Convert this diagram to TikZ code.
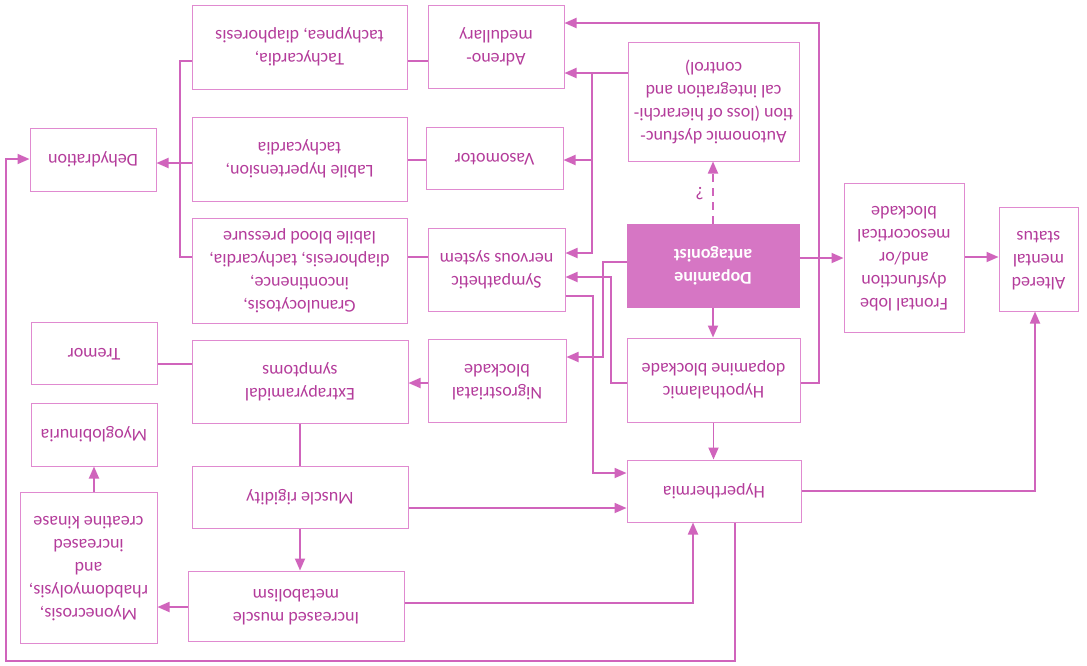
\documentclass[tikz,border=0pt]{standalone}
\usepackage{fontspec}
\setmainfont{Carlito}
\usetikzlibrary{arrows.meta}
\definecolor{pkline}{RGB}{208,100,188}
\definecolor{pkbox}{RGB}{224,138,208}
\definecolor{pktext}{RGB}{180,60,155}
\definecolor{pkfill}{RGB}{214,118,196}
\newcommand{\flip}[1]{\rotatebox[origin=c]{180}{\begin{tabular}{@{}c@{}}#1\end{tabular}}}
\begin{document}
\begin{tikzpicture}[x=1pt,y=-1pt,
  bx/.style={draw=pkbox, line width=1pt, inner sep=0pt, text=pktext, font=\fontsize{18}{23}\selectfont},
  ln/.style={draw=pkline, line width=1.8pt},
  arr/.style={ln, -{Triangle[length=12pt,width=10pt]}}]
\fill[white] (0,0) rectangle (1087,665);
\useasboundingbox (0,0) rectangle (1087,665);

\node[bx, minimum width=215pt, minimum height=84pt] (tach) at (299.5,47) {\flip{Tachycardia,\\ tachypnea, diaphoresis}};
\node[bx, minimum width=136pt, minimum height=83pt] (adreno) at (496,46.5) {\flip{Adreno-\\ medullary}};
\node[bx, minimum width=171pt, minimum height=119pt] (auto) at (713.5,101.5) {\flip{Autonomic dysfunc-\\ tion (loss of hierarchi-\\ cal integration and\\ control)}};
\node[bx, minimum width=126pt, minimum height=63pt] (dehyd) at (93,159.5) {\flip{Dehydration}};
\node[bx, minimum width=215pt, minimum height=84pt] (labile) at (299.5,159) {\flip{Labile hypertension,\\ tachycardia}};
\node[bx, minimum width=137pt, minimum height=62pt] (vaso) at (494.5,158) {\flip{Vasomotor}};
\node[bx, minimum width=215pt, minimum height=105pt] (gran) at (299.5,270.5) {\flip{Granulocytosis,\\ incontinence,\\ diaphoresis, tachycardia,\\ labile blood pressure}};
\node[bx, minimum width=137pt, minimum height=83pt] (symp) at (496.5,269.5) {\flip{Sympathetic\\ nervous system}};
\node[bx, fill=pkfill, draw=pkfill, text=white, font=\fontsize{18}{23}\selectfont\bfseries, minimum width=172pt, minimum height=83pt] (dop) at (713,265.5) {\flip{Dopamine\\ antagonist}};
\node[bx, minimum width=120pt, minimum height=149pt] (front) at (904,257.5) {\flip{Frontal lobe\\ dysfunction\\ and/or\\ mesocortical\\ blockade}};
\node[bx, minimum width=79pt, minimum height=104pt] (alter) at (1038.5,259) {\flip{Altered\\ mental\\ status}};
\node[bx, minimum width=126pt, minimum height=62pt] (tremor) at (94,353) {\flip{Tremor}};
\node[bx, minimum width=216pt, minimum height=83pt] (extra) at (300,381.5) {\flip{Extrapyramidal\\ symptoms}};
\node[bx, minimum width=138pt, minimum height=83pt] (nigro) at (497,380.5) {\flip{Nigrostriatal\\ blockade}};
\node[bx, minimum width=173pt, minimum height=84pt] (hypo) at (713.5,380) {\flip{Hypothalamic\\ dopamine blockade}};
\node[bx, minimum width=126pt, minimum height=63pt] (myog) at (94,434.5) {\flip{Myoglobinuria}};
\node[bx, minimum width=216pt, minimum height=62pt] (musc) at (300,497) {\flip{Muscle rigidity}};
\node[bx, minimum width=174pt, minimum height=62pt] (hyper) at (714,491) {\flip{Hyperthermia}};
\node[bx, minimum width=137pt, minimum height=151pt] (myon) at (88.5,567.5) {\flip{Myonecrosis,\\ rhabdomyolysis,\\ and\\ increased\\ creatine kinase}};
\node[bx, minimum width=216pt, minimum height=70pt] (incr) at (296,606) {\flip{Increased muscle\\ metabolism}};

% connectors
\draw[arr] (dop.east|-0,258) -- (front.west|-0,258);
\draw[arr] (front.east|-0,257) -- (alter.west|-0,257);
\draw[arr] (dop.south) -- (dop.south|-hypo.north);
\draw[arr] (hypo.south) -- (hypo.south|-hyper.north);
\draw[arr, dash pattern=on 8pt off 6pt] (dop.north) -- node[midway, left=5pt, text=pktext, font=\fontsize{18}{23}\selectfont] (qm) {\flip{?}} (dop.north|-auto.south);
\draw[arr] (hypo.east|-0,383) -- (819,383) -- (819,23) -- (adreno.east|-0,23);
\draw[arr] (auto.west|-0,73) -- (adreno.east|-0,73);
\coordinate (jA) at (592,73);
\draw[arr] (jA) |- (vaso.east|-0,160);
\draw[arr] (jA) |- (symp.east|-0,253);
\draw[arr] (dop.west|-0,262) -- (603,262) -- (603,357) -- (nigro.east|-0,357);
\draw[arr] (hypo.west|-0,383) -- (611,383) -- (611,277) -- (symp.east|-0,277);
\draw[arr] (symp.east|-0,296) -- (593,296) -- (593,473) -- (hyper.west|-0,473);
\draw[arr] (nigro.west|-0,383) -- (extra.east|-0,383);
\draw[ln] (extra.west|-0,364) -- (tremor.east|-0,364);
\draw[ln] (extra.south) -- (extra.south|-musc.north);
\draw[arr] (musc.south) -- (musc.south|-incr.north);
\draw[arr] (musc.east|-0,508) -- (hyper.west|-0,508);
\draw[arr] (incr.east|-0,603) -- (693,603) -- (hyper.south-|693,0);
\draw[arr] (incr.west|-0,607) -- (myon.east|-0,607);
\draw[arr] (myon.north-|94,0) -- (myog.south-|94,0);
\draw[arr] (hyper.south-|735,0) -- (735,661) -- (6,661) -- (6,159) -- (dehyd.west|-0,159);
\draw[arr] (hyper.east|-0,491) -- (1035,491) -- (alter.south-|1035,0);
\draw[ln] (tach.west|-0,61) -- (180,61) -- (180,257) -- (gran.west|-0,257);
\draw[ln] (labile.west|-0,163) -- (180,163);
\draw[arr] (180,163) -- (dehyd.east|-0,163);
\draw[ln] (adreno.west|-0,61) -- (tach.east|-0,61);
\draw[ln] (vaso.west|-0,160) -- (labile.east|-0,160);
\draw[ln] (symp.west|-0,257) -- (gran.east|-0,257);
\end{tikzpicture}
\end{document}
